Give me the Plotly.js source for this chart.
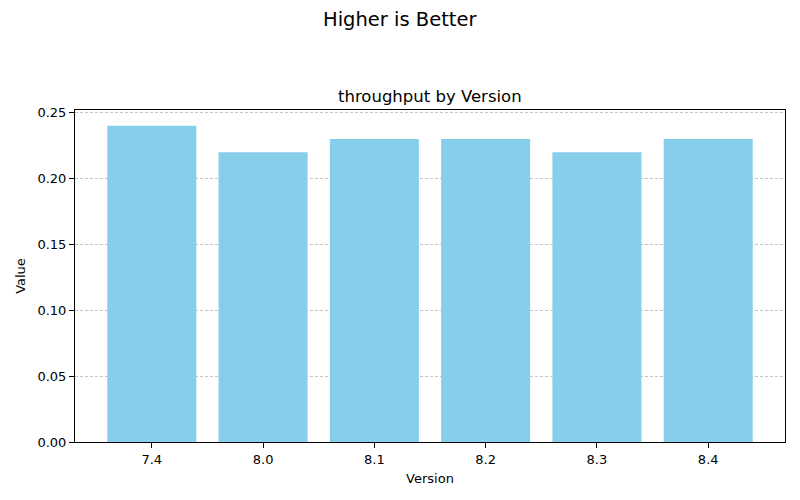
<!DOCTYPE html>
<html>
<head>
<meta charset="utf-8">
<script src="https://cdn.plot.ly/plotly-3.0.1.min.js"></script>
<style>
  body { margin: 0; background: #ffffff; }
  #chart { width: 800px; height: 500px; }
</style>
</head>
<body>
<div id="chart"></div>
<script>
var versions = ['7.4', '8.0', '8.1', '8.2', '8.3', '8.4'];
var throughput = [0.24, 0.22, 0.23, 0.23, 0.22, 0.23];
var yTicks = [0, 0.05, 0.10, 0.15, 0.20, 0.25];
var yTickText = ['0.00', '0.05', '0.10', '0.15', '0.20', '0.25'];

var xPos = versions.map(function(v, i) { return i; });
var yMax = Math.max.apply(null, throughput) * 1.05;

// figure centre in paper coords (plot area spans x 75..785)
var figCenter = (400 - 75) / 710;

var trace = {
    x: xPos,
    y: throughput,
    type: 'bar',
    width: 0.8,
    marker: { color: '#87CEEB', line: { width: 0 } },
    hoverinfo: 'x+y'
};

var layout = {
    width: 800,
    height: 500,
    paper_bgcolor: '#ffffff',
    plot_bgcolor: '#ffffff',
    font: { family: 'DejaVu Sans', size: 13, color: '#000000' },
    margin: { t: 110, r: 15, b: 58, l: 75 },
    showlegend: false,
    xaxis: {
        range: [-0.69, 5.69],
        tickvals: xPos,
        ticktext: versions,
        ticks: 'outside',
        ticklen: 5,
        tickcolor: '#000000',
        tickfont: { size: 13 },
        showgrid: false,
        zeroline: false,
        showline: true,
        linecolor: '#000000',
        linewidth: 1,
        mirror: true,
        title: { text: 'Version', font: { size: 13 }, standoff: 8 }
    },
    yaxis: {
        range: [0, yMax],
        tickvals: yTicks,
        ticktext: yTickText,
        ticks: 'outside',
        ticklen: 5,
        tickcolor: '#000000',
        tickfont: { size: 13 },
        showgrid: true,
        gridcolor: 'rgba(176,176,176,0.75)',
        griddash: '3px,2px',
        gridwidth: 1,
        zeroline: false,
        showline: true,
        linecolor: '#000000',
        linewidth: 1,
        mirror: true,
        title: { text: 'Value', font: { size: 13 }, standoff: 8 }
    },
    annotations: [
        {
            text: 'Higher is Better',
            xref: 'paper', yref: 'paper',
            x: figCenter, y: 1, yshift: 91,
            xanchor: 'center', yanchor: 'middle',
            showarrow: false,
            font: { size: 19.5 }
        },
        {
            text: 'throughput by Version',
            xref: 'paper', yref: 'paper',
            x: 0.5, y: 1, yshift: 14,
            xanchor: 'center', yanchor: 'middle',
            showarrow: false,
            font: { size: 16.5 }
        }
    ]
};

Plotly.newPlot('chart', [trace], layout, { displayModeBar: false, staticPlot: true });
</script>
</body>
</html>
